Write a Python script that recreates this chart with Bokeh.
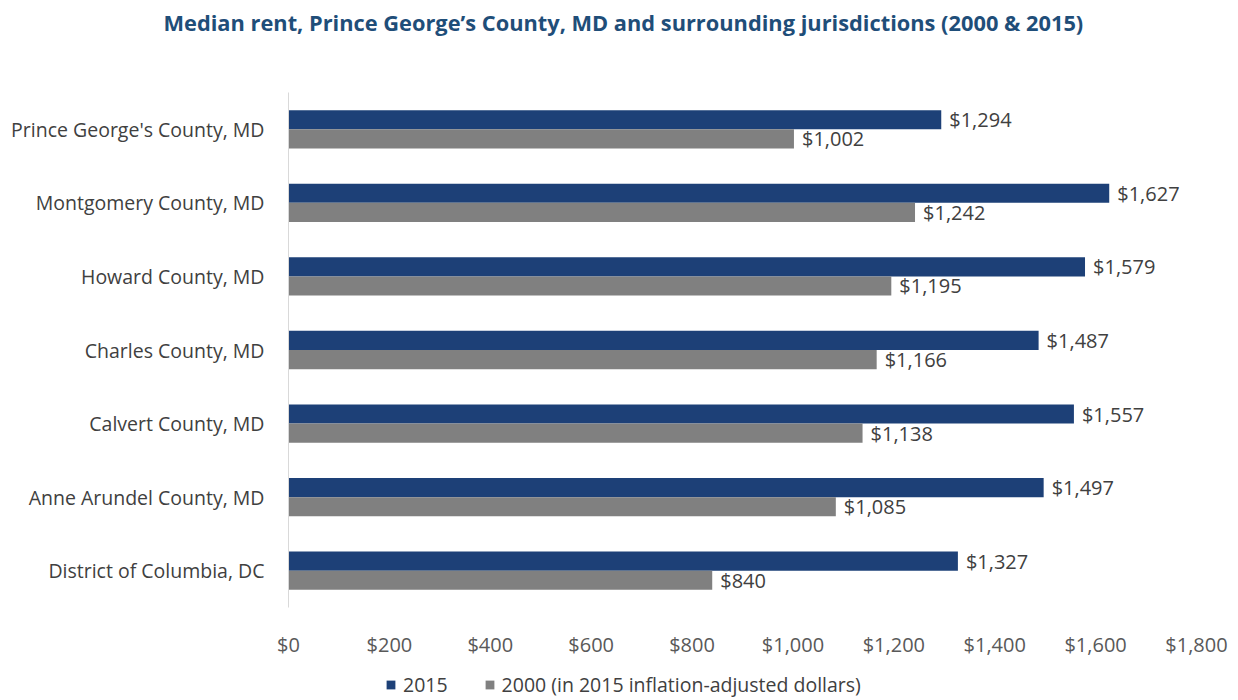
from bokeh.plotting import figure
from bokeh.layouts import column
from bokeh.models import (ColumnDataSource, FactorRange, Range1d, LabelSet, Legend, LegendItem,
                          NumeralTickFormatter, FixedTicker, Title)
from bokeh.core.properties import value
from bokeh.transform import dodge
from bokeh.embed import file_html
from bokeh.resources import INLINE

jurisdictions = ["Prince George's County, MD", "Montgomery County, MD", "Howard County, MD",
                 "Charles County, MD", "Calvert County, MD", "Anne Arundel County, MD",
                 "District of Columbia, DC"]
rent_2015 = [1294, 1627, 1579, 1487, 1557, 1497, 1327]
rent_2000 = [1002, 1242, 1195, 1166, 1138, 1085, 840]
x_ticks = [0, 200, 400, 600, 800, 1000, 1200, 1400, 1600, 1800]
series_names = ["2015", "2000 (in 2015 inflation-adjusted dollars)"]
chart_title = "Median rent, Prince George\u2019s County, MD and surrounding jurisdictions (2000 & 2015)"

FONT = "Open Sans"
BLUE = "#1d4077"
GRAY = "#808080"

src = ColumnDataSource(dict(
    cat=jurisdictions, v2015=rent_2015, v2000=rent_2000,
    l2015=["${:,}".format(v) for v in rent_2015],
    l2000=["${:,}".format(v) for v in rent_2000],
))

# title strip
tt = figure(width=1236, height=92, output_backend="svg", toolbar_location=None,
            x_axis_type=None, y_axis_type=None, min_border=0,
            x_range=Range1d(0, 1), y_range=Range1d(0, 1))
tt.outline_line_color = None
tt.xgrid.visible = False
tt.ygrid.visible = False
tt.title = Title(text=chart_title, align="left", offset=-125, text_font=FONT,
                 text_font_style="bold", text_font_size="21.8px", text_color="#1f4e79",
                 standoff=10)

# main chart
p = figure(width=1236, height=568, output_backend="svg", toolbar_location=None,
           y_range=FactorRange(factors=list(reversed(jurisdictions)), range_padding=0),
           x_range=Range1d(0, 1800),
           min_border_left=288, min_border_right=40, min_border_top=0, min_border_bottom=45)
p.outline_line_color = None
p.background_fill_color = "white"
p.border_fill_color = "white"

r1 = p.hbar(y=dodge("cat", 0.13, range=p.y_range), right="v2015", left=0, height=0.26,
            source=src, fill_color=BLUE, line_color=None)
r2 = p.hbar(y=dodge("cat", -0.13, range=p.y_range), right="v2000", left=0, height=0.26,
            source=src, fill_color=GRAY, line_color=None)

lab1 = LabelSet(x="v2015", y=dodge("cat", 0.13, range=p.y_range), text="l2015", source=src,
                x_offset=8, text_baseline="middle", text_font_size="20px",
                text_color="#404040", text_font=value(FONT))
lab2 = LabelSet(x="v2000", y=dodge("cat", -0.13, range=p.y_range), text="l2000", source=src,
                x_offset=8, text_baseline="middle", text_font_size="20px",
                text_color="#404040", text_font=value(FONT))
p.add_layout(lab1)
p.add_layout(lab2)

p.xgrid.visible = False
p.ygrid.visible = False

xa = p.xaxis[0]
xa.ticker = FixedTicker(ticks=x_ticks)
xa.formatter = NumeralTickFormatter(format="$0,0")
xa.axis_line_color = None
xa.major_tick_line_color = None
xa.minor_tick_line_color = None
xa.major_label_text_font = FONT
xa.major_label_text_font_size = "20px"
xa.major_label_text_color = "#595959"
xa.major_label_standoff = 17

ya = p.yaxis[0]
ya.axis_line_color = "#d9d9d9"
ya.axis_line_width = 1
ya.major_tick_line_color = None
ya.minor_tick_line_color = None
ya.major_label_text_font = FONT
ya.major_label_text_font_size = "19.5px"
ya.major_label_text_color = "#404040"
ya.major_label_standoff = 18

# legend strip below the chart
lg = figure(width=1236, height=38, output_backend="svg", toolbar_location=None,
            x_axis_type=None, y_axis_type=None, min_border=0,
            x_range=Range1d(0, 1), y_range=Range1d(0, 1))
lg.outline_line_color = None
lg.xgrid.visible = False
lg.ygrid.visible = False
proxy = ColumnDataSource(dict(y=[0], right=[0]))
d1 = lg.hbar(y="y", right="right", left=0, height=0.5, source=proxy, fill_color=BLUE, line_color=None)
d2 = lg.hbar(y="y", right="right", left=0, height=0.5, source=proxy, fill_color=GRAY, line_color=None)
legend = Legend(items=[LegendItem(label=series_names[0], renderers=[d1]),
                       LegendItem(label=series_names[1], renderers=[d2])],
                orientation="horizontal", location=(97, 0), padding=0, margin=0,
                spacing=36, glyph_width=11, glyph_height=11, label_standoff=7,
                label_height=20,
                label_text_font=FONT, label_text_font_size="19.5px", label_text_color="#404040",
                border_line_color=None, background_fill_alpha=0)
lg.add_layout(legend, "center")

layout = column(tt, p, lg, spacing=0)
open("out.html", "w").write(file_html(layout, INLINE))
